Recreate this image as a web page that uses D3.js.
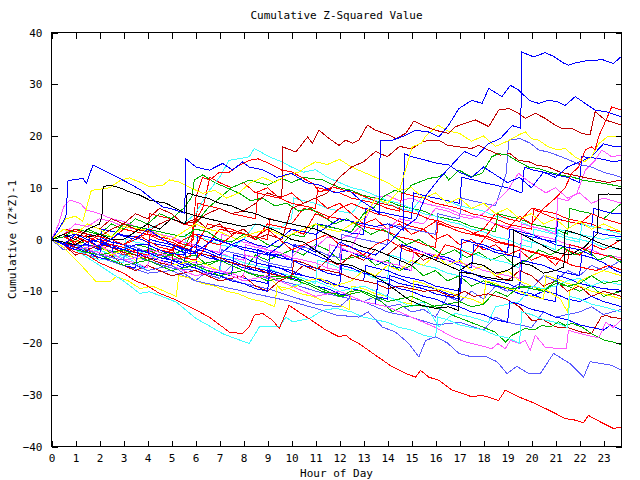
<!DOCTYPE html>
<html><head><meta charset="utf-8">
<script src="https://cdn.jsdelivr.net/npm/d3@7"></script>
<style>
body{margin:0;background:#fff}
text{font-family:"DejaVu Sans Mono","Liberation Mono",monospace;font-size:11px;fill:#000}
</style>
</head><body>
<svg id="chart" width="640" height="480"></svg>
<script>
const title = "Cumulative Z-Squared Value";
const xTitle = "Hour of Day";
const yTitle = "Cumulative (Z*Z)-1";
const hourTicks = d3.range(0, 24);
const valueTicks = [-40, -30, -20, -10, 0, 10, 20, 30, 40];

const R="#ff0000", DR="#c00000", G="#00b000", B="#0000ff", MB="#5a5aff", M="#ff55ff", C="#40ffff", Y="#ffff00", K="#000000";

const s01=[[0,0],[0.5,-1],[1,1],[1.5,0],[2,-1.5],[2.75,1],[3.5,0],[4,2],[4.5,0.5],[5,-1],[6,-2.5],[6.75,0],[7.5,-1],[8,-2],[9,-3],[9.75,-0.5],[10.5,-2],[11.5,-4],[12,-0.5],[12.75,-2],[13.5,-3],[14,-1],[14.6,2],[15.2,4],[15.6,8.5],[16.2,12],[16.6,14],[17.2,17],[17.7,16],[18.2,18.5],[18.7,19.5],[19.2,22],[19.55,21.5],[19.6,36.2],[20.09,35.3],[20.57,36.1],[20.92,35.4],[21.33,34.1],[21.54,33.7],[21.82,34.1],[22.24,34.5],[22.65,34.6],[22.93,34.8],[23.41,34],[23.75,35.4]];
const s02=[[0,0],[0.3,2],[0.6,4.4],[0.69,11.4],[1.31,11.8],[1.45,10.8],[1.73,14.4],[2.42,12.8],[3.25,10.8],[3.74,9.5],[4.09,8.2],[4.64,6.3],[5.1,5.8],[5.55,5.1],[5.6,15.6],[6.02,14],[6.58,13.4],[7.13,14.7],[7.55,13.4],[7.96,15],[8.24,14],[8.8,13.5],[9.4,12],[10,12.8],[10.6,11],[11.2,10.5],[11.8,9],[12.4,9.5],[12.9,7.5],[13.4,6],[13.65,5],[13.7,19.2],[14.2,19.2],[14.7,20],[15.16,21.1],[15.7,20.8],[16.14,19.8],[16.55,22.1],[16.97,25.3],[17.52,26.9],[17.94,26.3],[18.22,29.2],[18.77,27.6],[19.12,29.8],[19.46,28.9],[19.9,26.9],[20.3,26.3],[20.7,26.9],[21.1,26.6],[21.4,25.9],[21.82,27.6],[22.24,26.3],[22.65,25],[23.1,24.7],[23.75,23.7]];
const s03=[[0,0],[0.5,1],[1,2],[1.5,1],[2,0.5],[2.5,2],[3,3],[3.5,2],[4,1.5],[4.5,3],[5,4],[5.5,3],[6,3.5],[6.5,5],[7,6],[7.5,5],[8,5.5],[8.5,7],[9,9],[9.3,8.5],[9.6,8.2],[9.63,17.9],[10.18,16.9],[10.67,19.8],[10.87,18.6],[11.15,21.1],[11.57,19.5],[11.98,18.2],[12.26,19.2],[12.54,18.6],[12.81,19.2],[13.16,22.1],[13.51,21.1],[14.06,20.2],[14.34,19.5],[14.76,20.5],[15.1,22.9],[15.44,22.1],[16,21.1],[16.55,20.5],[16.83,21.8],[17.66,23.1],[18.22,21.8],[18.63,25],[19.05,25.3],[19.46,24.4],[19.74,23.4],[20.16,24.4],[20.57,23.4],[20.99,22.1],[21.26,21.5],[21.68,21.5],[22.1,20.5],[22.44,20.2],[22.65,24.7],[23.07,23.1],[23.75,22.1]];
const s04=[[0,0],[0.5,-1],[1,0.5],[1.5,-0.5],[2,1],[2.5,0],[3,-1],[3.75,0.5],[4.5,-1.5],[5,-2],[5.5,0],[6,1],[6.5,-0.5],[7,-1],[7.75,1.5],[8.5,0.5],[9,2],[9.5,0],[10,-2],[10.75,-0.5],[11.5,1],[12,-1],[12.5,-1.5],[13,-3],[13.5,-1],[14,0],[14.75,-2],[15.5,-3],[16,-4],[16.4,-1],[16.8,-1.5],[17.5,-3],[18,0],[18.5,3],[19,2],[19.5,4.5],[20,3],[20.5,6],[21,8],[21.4,10],[21.68,12.8],[21.96,14],[22.24,17.3],[22.51,17.9],[22.65,17.3],[22.79,19.8],[23.07,22.7],[23.34,25.6],[23.75,25]];
const s05=[[0,0],[0.5,2],[1,1],[1.5,3],[2,2],[2.5,0.5],[3,2.5],[3.75,2],[4.5,1],[5,0],[5.5,1.5],[6,3],[6.5,2],[7,1.5],[7.75,0],[8.25,1],[9,2],[9.75,0.5],[10.25,1.5],[11,3],[11.5,2],[12,1.5],[12.5,3],[13,4],[13.5,8],[14,7],[14.5,9.5],[15.03,17.9],[15.4,18.6],[15.6,20],[16.1,22.1],[16.5,21],[17,20.5],[17.5,19],[18,20],[18.5,18],[19,19],[19.46,20.2],[19.74,20.8],[20,19.5],[20.3,19.2],[20.7,17.9],[21.1,17.3],[21.4,17.6],[21.8,16],[22.2,15],[22.5,16],[22.8,18.5],[23.2,20],[23.75,19.8]];
const s06=[[0,0],[0.5,-1],[1,-2],[1.5,-0.5],[2,0],[2.5,-1.5],[3,-2],[3.5,-1],[4,-1],[4.75,-2.5],[5.5,-3],[6,-1],[6.5,-2],[7,-3],[7.5,-1],[8,0],[8.5,-1],[9,-1.5],[9.5,0],[10,2],[10.5,1.5],[11,1],[11.5,2.5],[12,4],[12.5,3.5],[13,3],[13.5,2.5],[14,3],[14.3,2.5],[14.65,1.8],[14.7,16.6],[15,16],[15.6,15.3],[16.1,14.7],[16.55,14.4],[17,13],[17.5,12],[18,14],[18.5,12.5],[19,11],[19.5,12],[20,10],[20.5,13],[21,12],[21.5,14],[22,15],[22.5,16],[23,18.5],[23.4,18],[23.75,17.9]];
const s07=[[0,0],[0.5,1],[1,0],[1.5,2],[2,3],[2.1,4.4],[2.15,10.2],[2.42,10.5],[2.84,10],[3.25,9.2],[3.67,8.6],[4.09,7.6],[4.78,7],[5.47,5.3],[6.16,4.4],[7,3.5],[8,2.5],[8.6,3],[9.3,1.8],[10,0],[10.5,-0.5],[11,-2.1],[11.85,-4.6],[12.5,-5],[13.24,-6.6],[13.8,-8],[14.34,-9.8],[14.9,-11.7],[15.4,-12.7],[16,-13.3],[16.55,-13],[16.95,-13.7],[17,-6.3],[17.5,-6.6],[18,-7.2],[18.5,-7.6],[19.2,-7.9],[19.26,1.8],[19.8,0.5],[20.4,-1],[21,-2.5],[21.6,-3],[22.2,-1.5],[22.75,1.2],[22.8,8.6],[23.2,8.8],[23.75,8.6]];
const s08=[[0,0],[0.5,-0.5],[1,-1],[1.5,0.5],[2,1],[2.5,0],[3,0],[3.5,1.5],[4,3],[4.5,2],[5,4],[5.6,3],[5.65,9],[6,8.5],[6.5,8],[7,7],[7.5,6.5],[8,5.5],[8.5,5],[9,4],[9.5,3.5],[10,3],[10.5,2.5],[11,2],[11.5,1],[12,0],[12.5,-0.5],[13,-1.5],[13.5,-2],[14,-3],[14.5,-4],[15,-5],[15.5,-3],[16,-4],[16.5,-5],[17,-6],[17.5,-4.5],[18,-5],[18.5,-6.5],[19,-6],[19.5,-4.5],[20,-5],[20.5,-6.5],[21,-6],[21.35,-5.3],[21.4,1.8],[22,1],[22.5,0],[23,-1],[23.75,-2]];
const s09=[[0,0],[0.5,-0.5],[1,-1.2],[1.5,-1],[2,-2],[2.1,2],[2.6,1.5],[3,0.8],[3.5,0.5],[4,-0.5],[4.5,-1],[5,-1.5],[5.5,-2.5],[6,-2.8],[6.1,1],[6.5,0.5],[7,-0.2],[7.5,-1],[8,-1.5],[8.5,-2],[9,-2.8],[9.5,-3],[10,-4],[10.1,-1],[10.6,-1.5],[11,-2.5],[11.1,3],[11.5,2.6],[12,2],[12.5,1.2],[13,1],[13.1,6],[13.5,5.5],[14,5],[14.5,4.5],[15,4],[15.1,9],[15.5,8.5],[16,8],[16.5,7.5],[17,7],[17.1,12],[17.6,11.5],[18,11],[18.5,10.5],[19,10],[19.6,9],[19.7,14],[20,13.5],[20.5,13],[21,12.5],[21.5,12],[22,11],[22.1,16],[22.5,15.8],[23,15.5],[23.4,15],[23.75,15.3]];
const s10=[[0,0],[0.3,3],[0.5,6.3],[0.76,7.6],[1.2,7],[1.45,5.7],[2,5],[2.5,4],[3,3.5],[3.5,2.5],[4,2],[4.5,1],[5,0.5],[5.5,-0.5],[6,-1],[6.5,-2],[7,-2.5],[7.1,1],[7.5,0.5],[8,-0.5],[8.5,-1],[9,-2],[9.5,-2.5],[10,-3.5],[10.5,-4],[11,-4.5],[11.5,-5.5],[11.6,-1],[12,-1.5],[12.5,-2.5],[13,-3],[13.5,-4],[14,-4.5],[14.5,-5],[15,-6],[15.1,-2],[15.5,-2.5],[16,-3],[16.5,-4],[17,-4.5],[17.5,-5],[18,-6],[18.5,-6.5],[19,-7],[19.5,-7.5],[19.6,3],[20,2.5],[20.5,2],[21,1],[21.1,8],[21.5,7.5],[21.9,9],[22.24,13.4],[22.65,15.3],[22.93,17.3],[23.34,16],[23.75,16.3]];
const s11=[[0,0],[0.5,-0.5],[1,-1.5],[1.5,-2],[2,-3],[2.5,-3.5],[3,-4],[3.1,-1],[3.5,-1.5],[4,-2.5],[4.5,-3],[5,-3.5],[5.5,-4.5],[6,-5],[6.5,-5.5],[7,-6],[7.1,-2],[7.5,-2.5],[8,-3],[8.5,-3.5],[9,-4.5],[9.5,-5],[10,-5.5],[10.1,-1],[10.5,-1.5],[11,-2],[11.5,-3],[12,-3.5],[12.1,1],[12.5,0.5],[13,0],[13.5,-0.5],[14,-1],[14.1,3],[14.5,2.5],[15,2],[15.5,1.5],[16,1],[16.1,5],[16.5,4.5],[17,4],[17.1,8],[17.5,7.5],[18,7],[18.5,6.5],[18.95,12.8],[19.05,19.2],[19.53,19.5],[19.95,18.6],[20.3,17.3],[20.7,16.9],[21.06,16.3],[21.5,15.5],[22,14.5],[22.5,14],[23,13],[23.4,12.5],[23.75,12]];
const s12=[[0,0],[0.5,0.5],[1,2],[1.5,1.5],[2,1],[2.5,0.5],[3,3],[3.5,2.5],[4,2],[4.5,1.5],[5,1],[5.5,0.5],[6,2],[6.5,1.5],[7,0],[7.5,-0.5],[8,1],[8.5,0.5],[9,-1],[9.5,-1.5],[10,1],[10.5,0.5],[11,3],[11.5,2.5],[12,2],[12.5,1.5],[13,5],[13.4,6],[13.8,8.2],[14.3,9.5],[14.7,9],[15,10.5],[15.72,11.8],[16.14,12.1],[16.35,12.8],[16.55,11.5],[16.97,13.4],[17.52,12.1],[17.94,12.8],[18.35,16],[18.63,16.6],[19,16.3],[19.46,15],[19.88,14],[20.3,13.7],[20.7,13.1],[21.26,12.4],[21.68,12.1],[22.1,11.5],[22.65,11.1],[23.07,10.8],[23.75,10.2]];
const s13=[[0,0],[0.5,-0.8],[1,-1.5],[1.5,-2.5],[2,-3],[2.1,-0.5],[2.5,-1],[3,-2],[3.5,-2.5],[4,-3.5],[4.5,-4],[5,-4.5],[5.5,-5.5],[5.6,-2],[6,-2.5],[6.5,-3.5],[7,-4],[7.5,-4.5],[8,-5.5],[8.5,-6],[9,-6.5],[9.1,-3],[9.5,-3.5],[10,-4],[10.5,-5],[11,-5.5],[11.5,-6.5],[12,-7],[12.1,-2],[12.5,-2.5],[13,-3],[13.5,-4],[14,-4.5],[14.5,-5],[14.6,-1],[15,-1.5],[15.5,-2.5],[16,-3],[16.5,-3.5],[17,-4.5],[17.1,0],[17.5,-0.5],[18,-1],[18.5,-2],[19,-2.5],[19.1,2],[19.5,1.5],[20,1],[20.5,0],[21,-0.5],[21.1,4],[21.5,3.5],[22,3],[22.5,2.5],[22.6,6],[23,5.5],[23.4,5],[23.75,5.1]];
const s14=[[0,0],[0.5,-1],[1,1],[1.5,0.5],[2,-0.5],[2.5,-1],[3,-1.5],[3.5,-2.5],[4,-3],[4.5,-2],[5,-2.5],[5.5,-3.5],[6,-4],[6.5,-1],[7,2],[7.5,1.5],[8,1],[8.5,0],[9,3],[9.5,2.5],[10,2],[10.5,1],[11,5],[11.5,4],[12,6],[12.5,7],[13,6],[13.5,5],[14,4.5],[14.5,3.5],[15,2.5],[15.5,2],[16,3.5],[16.5,2.5],[17,1.5],[17.5,1],[18,2],[18.5,5],[19,4],[19.5,3.5],[20,6],[20.5,5],[21,4],[21.5,3.5],[22,3],[22.5,5],[23,4],[23.75,3]];
const s15=[[0,0],[0.5,1],[1,2],[1.5,1],[2,0.5],[2.5,2],[3,3],[3.5,2.5],[4,2],[4.5,3],[5,4],[5.5,3],[6,5],[6.5,9],[7,12],[7.4,15.3],[7.8,15.6],[8.24,16],[8.45,17.6],[8.8,16.7],[9.07,16],[9.6,15],[10,14],[10.5,13],[11,13.5],[11.5,12],[12,11],[12.5,10],[13,9.5],[13.5,8.5],[14,7.5],[14.5,7],[15,6],[15.5,5],[16,4.5],[16.5,3.5],[17,3],[17.5,2],[18,1.5],[18.5,0.5],[19,0],[19.5,-1],[20,-1.5],[20.1,2],[20.5,1.5],[21,1],[21.5,0],[22,-0.5],[22.1,3],[22.5,2.5],[23,2],[23.75,1]];
const s16=[[0,0],[0.5,-1],[1,-1.5],[1.5,-2.5],[2,-3],[2.5,-3.5],[2.6,-0.5],[3,-1],[3.5,-2],[4,-2.5],[4.5,-3.5],[5,-4],[5.5,-4.5],[6,-5.5],[6.1,-2],[6.5,-2.5],[7,-3.5],[7.5,-4],[8,-5],[8.5,-5.5],[9,-6],[9.5,-7],[10,-7.5],[10.1,-4],[10.5,-4.5],[11,-5.5],[11.5,-6],[12,-6.5],[12.1,-2],[12.5,-2.5],[13,-3.5],[13.5,-4],[14,-5],[14.5,-5.5],[15,-6],[15.1,-2],[15.5,-2.5],[16,-3.5],[16.5,-4],[17,-5],[17.5,-5.5],[17.6,-1],[18,-1.5],[18.5,-2.5],[19,-3],[19.5,-3.5],[19.6,1],[20,0.5],[20.5,0],[21,-1],[21.5,-1.5],[22,-2],[22.5,-3],[22.6,1.5],[23,1],[23.75,0.5]];
const s17=[[0,0],[0.5,-1],[1,-2],[1.5,-2.5],[2,-3.5],[2.5,-4],[3,-4.5],[3.1,-1.5],[3.5,-2],[4,-3],[4.5,-3.5],[5,-4],[5.5,-5],[6,-5.5],[6.5,-6],[7,-7],[7.1,-3],[7.5,-3.5],[8,-4.5],[8.5,-5],[9,-5.5],[9.5,-6.5],[10,-7],[10.5,-7.5],[11,-8.5],[11.1,-4],[11.5,-4.5],[12,-5.5],[12.5,-6],[13,-6.5],[13.5,-7.5],[14,-8],[14.1,-3],[14.5,-3.5],[15,-4.5],[15.5,-5],[16,-5.5],[16.5,-6.5],[17,-7],[17.1,-2],[17.5,-2.5],[18,-3.5],[18.5,-4],[19,-4.5],[19.5,-5.5],[19.6,0],[20,-0.5],[20.5,-1],[21,-2],[21.1,2],[21.5,1.5],[22,1],[22.5,0.5],[23,0],[23.4,0.5],[23.75,-0.1]];
const s18=[[0,0],[0.5,0.5],[1,-0.5],[1.5,1],[2,0.5],[2.5,0],[3,-1],[3.5,0.5],[4,1],[4.5,0],[5,-0.5],[5.5,-1.5],[5.9,0],[6,8],[6.3,12],[6.6,11.5],[7,13],[7.4,13],[7.7,14],[8,14.7],[8.24,15.3],[8.6,15.6],[9.07,14.7],[9.6,13.4],[10,13.1],[10.5,11.8],[10.9,10.8],[11.15,9.2],[11.4,9.5],[11.7,10.2],[12.2,9.5],[12.7,8.9],[13.2,8],[13.7,7],[14.2,6.5],[14.7,5.5],[15.2,5],[15.7,4],[16.2,3.5],[16.7,2.5],[17.2,2],[17.7,1],[18.2,0.5],[18.7,-0.5],[19.2,-1],[19.7,-2],[20.2,-2.5],[20.7,-3.5],[21.2,-4],[21.7,-5],[22.2,-5.5],[22.7,-6],[23.2,-5],[23.75,-5.9]];
const s19=[[0,0],[0.5,0.5],[1,1],[1.5,0],[2,-0.5],[2.5,-1.5],[3,-2],[3.5,-2.5],[4,-3.5],[4.1,0],[4.5,-0.5],[5,-1],[5.5,-2],[6,-2.5],[6.5,-3],[7,-4],[7.5,-4.5],[8,-5],[8.5,-6],[8.6,-2],[9,-2.5],[9.5,-3.5],[10,-4],[10.5,-4.5],[11,-5.5],[11.5,-6],[12,-6.5],[12.5,-7.5],[13,-8],[13.1,-5],[13.5,-5.5],[14,-6],[14.5,-7],[15,-7.5],[15.5,-8],[16,-9],[16.5,-9.5],[17,-10],[17.1,-6],[17.5,-6.5],[18,-7.5],[18.5,-8],[19,-8.5],[19.5,-9.5],[19.6,-4],[20,-4.5],[20.5,-5],[21,-6],[21.5,-6.5],[22,-7],[22.1,-3],[22.5,-3.5],[23,-4.5],[23.5,-6],[23.75,-6.5]];
const s20=[[0,0],[1,-1],[2,-3],[3,-2],[4,-4],[5,-3],[6,-5],[7,-4],[8,-6],[8.24,-6.6],[9.07,-7.2],[9.6,-7.2],[10.18,-7.9],[10.74,-8.8],[11.29,-10.1],[11.85,-10.4],[12.12,-11.1],[12.4,-10.1],[12.81,-9.8],[13.23,-10.8],[13.78,-12.1],[14.2,-14],[14.61,-13],[15.17,-12.7],[15.72,-13],[16.28,-12.7],[17,-12],[17.5,-13],[18,-12.5],[18.5,-10],[19,-11],[19.5,-9],[20,-9.5],[20.5,-10],[21,-8],[21.5,-9],[22,-8.5],[22.5,-7],[23,-8.5],[23.75,-7.9]];
const s21=[[0,0],[1,-2],[2,-4],[3,-3],[4,-6],[5,-5],[6,-7],[7,-6],[8,-8],[9,-7],[10,-9],[11,-8],[12,-10],[13,-9],[14,-11],[15,-13],[15.5,-12],[16.14,-16.9],[16.55,-15],[16.83,-14.3],[17.5,-15],[18.2,-16],[18.5,-13],[19,-12.5],[19.5,-12],[20,-9],[20.5,-9.5],[21,-9],[21.5,-8],[22,-7.5],[22.5,-9],[23,-8],[23.75,-8.8]];
const s22=[[0,0],[0.5,-0.5],[1,-1.5],[1.5,-2],[2,-3],[2.5,-3.5],[3,-4],[3.5,-5],[4,-5.5],[4.1,-2],[4.5,-2.5],[5,-3.5],[5.5,-4],[6,-4.5],[6.5,-5.5],[7,-6],[7.5,-6.5],[8,-7.5],[8.5,-8],[9,-8.5],[9.1,-5],[9.5,-5.5],[10,-6],[10.5,-7],[11,-7.5],[11.5,-8],[12,-9],[12.5,-9.5],[13,-10],[13.5,-11],[14,-11.5],[14.1,-7],[14.5,-7.5],[15,-8.5],[15.5,-9],[16,-9.5],[16.5,-10.5],[17,-11],[17.5,-11.5],[18,-12.5],[18.1,-8],[18.5,-8.5],[19,-9.5],[19.5,-10],[20,-10.5],[20.5,-11.5],[21,-12],[21.1,-7],[21.5,-7.5],[22,-8.5],[22.5,-9],[23,-9.5],[23.75,-9.8]];
const s23=[[0,0],[0.5,-1],[1,-1.5],[1.5,-2.5],[1.6,1],[2,0.5],[2.5,-0.5],[3,-1],[3.5,-2],[4,-2.5],[4.5,-3],[5,-4],[5.5,-4.5],[6,-5],[6.5,-6],[7,-6.5],[7.5,-7],[7.6,-3],[8,-3.5],[8.5,-4.5],[9,-5],[9.5,-5.5],[10,-6.5],[10.5,-7],[11,-7.5],[11.5,-8.5],[12,-9],[12.1,-5],[12.5,-5.5],[13,-6.5],[13.5,-7],[14,-7.5],[14.5,-8.5],[15,-9],[15.5,-9.5],[16,-10.5],[16.5,-11],[17,-11.5],[17.1,-7],[17.5,-7.5],[18,-8.5],[18.5,-9],[19,-9.5],[19.5,-10.5],[20,-11],[20.5,-10],[21,-10.5],[21.5,-11.5],[22,-12],[22.5,-11],[23,-12],[23.4,-12.5],[23.75,-13]];
const s24=[[0,0],[0.5,-0.5],[1,-1.5],[1.5,-2],[2,-1],[2.5,-1.5],[3,-2.5],[3.5,-3],[4,-3.5],[4.5,-4.5],[5,-5],[5.1,-1],[5.5,-1.5],[6,-2.5],[6.5,-3],[7,-3.5],[7.5,-4.5],[8,-5],[8.5,-5.5],[9,-6.5],[9.5,-7],[10,-7.5],[10.1,-4],[10.5,-4.5],[11,-5.5],[11.5,-6],[12,-6.5],[12.5,-7.5],[13,-8],[13.5,-8.5],[14,-9.5],[14.5,-9],[15,-9.5],[15.5,-10],[16,-9.8],[16.69,-11.1],[17.2,-10],[17.6,-11],[18.2,-10.5],[18.9,-11.4],[19.5,-13],[20,-15.6],[20.5,-15.5],[21,-16.9],[21.5,-17],[22.1,-17.9],[22.5,-18.2],[22.9,-15],[23.1,-14.6],[23.3,-15],[23.75,-15.3]];
const s25=[[0,0],[0.5,-1],[1,-2],[1.5,-2.5],[2,-3.5],[2.5,-4],[3,-5],[3.5,-5.5],[3.6,-2],[4,-2.5],[4.5,-3.5],[5,-4],[5.5,-5],[6,-5.5],[6.5,-6.5],[7,-7],[7.5,-8],[8,-8.5],[8.5,-9.5],[9,-10],[9.1,-6],[9.5,-6.5],[10,-7.5],[10.5,-8],[11,-9],[11.5,-9.5],[12,-10.5],[12.5,-11],[13,-12],[13.5,-12.5],[13.6,-8],[14,-8.5],[14.5,-9.5],[15,-10],[15.5,-11],[16,-11.5],[16.5,-12.5],[17,-13],[17.5,-14],[18,-14.5],[18.5,-15.5],[19,-16],[19.1,-12],[19.5,-12.5],[20,-13.5],[20.5,-14],[21,-15],[21.5,-15.5],[22,-16.5],[22.5,-17],[23,-17.5],[23.3,-16.5],[23.75,-17.5]];
const s26=[[0,0],[1,-2],[2,-3],[3,-5],[4,-4],[5,-6],[6,-5],[7,-7],[8,-6],[9,-8],[10,-7],[11,-9],[12,-11],[13,-10],[14,-12],[15,-11],[16,-13],[16.69,-14.6],[17.25,-15.6],[17.8,-16.6],[18.49,-17.9],[18.91,-19.8],[19.19,-18.5],[19.74,-17.2],[20.1,-17.5],[20.43,-16.6],[20.8,-16.9],[21.13,-15.9],[21.4,-16.6],[21.68,-16.2],[22.1,-16.9],[22.51,-18.2],[23.07,-19.5],[23.4,-19.8],[23.75,-20.4]];
const s27=[[0,0],[1,-1],[2,-3],[3,-4],[4,-6],[5,-5],[6,-8],[7,-9],[8,-10],[9,-11],[10,-12],[11.01,-13.3],[11.85,-14.6],[12.81,-15],[13.2,-14],[13.78,-16.9],[14.34,-17.9],[14.89,-20.1],[15.31,-22.7],[15.59,-19.5],[16,-18.8],[16.5,-20],[16.97,-22],[17.52,-22.7],[18.08,-22.6],[18.56,-23.6],[18.98,-25.9],[19.39,-24.5],[19.88,-25.9],[20.37,-25.9],[20.92,-22],[21.61,-24],[22.17,-26.6],[22.44,-23.6],[22.93,-24],[23.34,-24.3],[23.75,-25.3]];
const s28=[[0,0],[0.5,-1],[1,-2.5],[1.5,-3],[2,-4.5],[2.5,-5.5],[3,-6.5],[3.5,-8],[3.94,-8.8],[4.5,-10.4],[5.2,-11.7],[5.88,-13.3],[6.58,-15],[7.13,-16.9],[7.41,-17.9],[7.96,-18.2],[8.24,-16.9],[8.45,-14.6],[8.8,-14.3],[9.21,-15.6],[9.49,-17.2],[9.9,-12.7],[10.3,-14],[10.74,-15.3],[11.43,-17.5],[11.98,-18.8],[12.26,-18.5],[12.54,-19.5],[12.81,-20.1],[13.51,-22.4],[14.2,-24.6],[14.76,-25.9],[15.17,-26.6],[15.38,-25.3],[15.72,-26.6],[16.14,-27.2],[16.69,-29.1],[17.52,-30.4],[17.94,-30.1],[18.63,-31.1],[18.91,-29.1],[19.46,-30.4],[20.16,-31.7],[20.99,-33.6],[21.4,-34.6],[21.82,-34.9],[22.17,-35.4],[22.37,-34],[22.93,-35.4],[23.41,-36.5],[23.75,-36.3]];
const s29=[[0,0],[0.5,-1],[1,-2],[1.5,-3.5],[2,-5],[2.42,-6.3],[3,-8],[3.67,-10.4],[4.09,-10.1],[4.6,-11],[5.2,-12.1],[6.03,-15.3],[6.5,-16.5],[7.13,-18.2],[7.7,-19.2],[8.24,-20.1],[8.66,-16.9],[9.49,-16.9],[9.77,-15],[10.04,-15.9],[10.74,-15.3],[11.29,-13.7],[11.85,-13.3],[12.5,-14],[13,-15],[13.5,-15.5],[14,-16],[14.5,-17],[15,-17.5],[15.5,-18.5],[16,-19],[16.1,-15],[16.5,-15.5],[17,-16.5],[17.5,-17],[18,-17.5],[18.5,-18.5],[19,-19],[19.5,-20],[19.6,-14],[20,-14.5],[20.5,-15.5],[21,-16],[21.5,-17],[21.6,-11],[22,-11.5],[22.5,-12.5],[23,-13],[23.75,-14]];
const s30=[[0,0],[0.5,-1.5],[1.24,-5],[1.87,-8.2],[2.42,-8.2],[2.7,-7.2],[3.2,-8],[3.7,-9.5],[4.2,-9],[4.7,-10],[5.2,-11],[5.3,-7],[5.8,-7.5],[6.3,-8.5],[6.8,-9],[7.3,-10],[7.8,-10.5],[8.3,-11.5],[8.8,-12],[9.3,-13],[9.4,-9],[9.9,-9.5],[10.4,-10.5],[10.9,-11],[11.4,-12],[11.9,-12.5],[12.4,-13.5],[12.5,-9],[13,-9.5],[13.5,-10.5],[14,-11],[14.5,-12],[15,-12.5],[15.1,-8],[15.5,-8.5],[16,-9.5],[16.5,-10],[17,-11],[17.5,-11.5],[18,-12.5],[18.1,-8],[18.5,-8.5],[19,-9.5],[19.5,-10],[20,-11],[20.5,-11.5],[20.6,-7],[21,-7.5],[21.5,-8.5],[22,-9],[22.5,-10],[23,-10.5],[23.75,-11.5]];
const s31=[[0,0],[0.5,2],[1,1.5],[1.5,1],[2,0],[2.5,-0.5],[3,-1],[3.5,-2],[4,-2.5],[4.1,1],[4.5,0.5],[5,0],[5.5,-1],[6,-1.5],[6.5,3],[7,2.5],[7.5,2],[8,1],[8.5,0.5],[9,0],[9.1,4],[9.5,3.5],[10,3],[10.5,6],[11,5.5],[11.5,4.5],[12,4],[12.5,3.5],[13,2.5],[13.5,2],[14,1.5],[14.5,0.5],[15,0],[15.5,-1],[16,-1.5],[16.1,3],[16.5,2.5],[17,1.5],[17.5,1],[18,0.5],[18.5,-0.5],[19,-1],[19.5,-1.5],[20,-2.5],[20.5,-3],[21,-3.5],[21.5,-4.5],[21.6,-1],[22,-1.5],[22.5,-2.5],[23,-3],[23.75,-4]];
const s32=[[0,0],[0.5,-1],[1,0],[1.5,-1],[2,-1.5],[2.5,-2.5],[3,-2],[3.5,-1],[4,-1.5],[4.5,-2.5],[5,-3],[5.5,-2],[6,3],[6.5,6],[7,8],[7.5,10],[8.24,11.5],[9,10.5],[9.6,11.8],[10,11],[10.5,12],[11.3,11.5],[12,10],[12.5,9.5],[13,8.5],[13.5,8],[14,7.5],[14.5,6.5],[15,6],[15.5,5.5],[16,4.5],[16.5,4],[17,3.5],[17.5,2.5],[18,2],[18.5,1.5],[18.6,5],[19,4.5],[19.5,4],[20,3],[20.5,2.5],[21,2],[21.5,1],[21.6,6],[22,5.5],[22.5,5],[23,4],[23.75,7]];
const s33=[[0,0],[0.5,-1.5],[1,-1],[1.5,-2],[2,-2.5],[2.5,-3.5],[3,-4],[3.5,-4.5],[4,-5.5],[4.1,-2],[4.5,-2.5],[5,-3.5],[5.5,-4],[6,-4.5],[6.5,-5.5],[7,-6],[7.5,-6.5],[8,-7.5],[8.1,-3],[8.5,-3.5],[9,-2],[9.5,-2.5],[10,-3.5],[10.5,-4],[11,-4.5],[11.5,-5.5],[12,-6],[12.1,-1],[12.5,-1.5],[13,3],[13.5,2.5],[14,2],[14.5,4],[15,3.5],[15.5,3],[16,6],[16.5,5.5],[17,4.5],[17.5,4],[18,5],[18.6,7.6],[19,9.5],[19.46,12.8],[19.8,11.5],[20.2,10.2],[20.6,9],[21,10],[21.5,8],[22,9],[22.5,7],[23,8],[23.75,7]];
const s34=[[0,0],[1,-2],[2,-1],[3,-4],[4,-3],[5,-5],[6,-7],[7,-6],[8,-8],[9,-7],[10,-9],[11,-11],[12,-10],[13,-12],[14,-13],[15,-15],[16,-17],[16.69,-18.8],[17.25,-19.8],[17.8,-20.4],[18.35,-21.1],[18.6,-20.1],[18.91,-21.1],[19.12,-19.5],[19.5,-20.1],[19.74,-19.5],[19.95,-21.4],[20.16,-18.5],[20.57,-20.8],[21.13,-21.1],[21.45,-21.1],[21.54,-17.5],[21.8,-17.9],[22.3,-18.5],[22.8,-19],[23.1,-16],[23.4,-17],[23.75,-15.5]];
const s35=[[0,0],[0.5,1],[1,3],[1.5,2.5],[2,4],[2.5,3.5],[3,2.5],[3.5,2],[4,1.5],[4.5,0.5],[5,0],[5.5,-0.5],[6,-1.5],[6.5,-2],[7,-2.5],[7.5,-3.5],[8,-4],[8.1,-1],[8.5,-1.5],[9,-2],[9.5,-3],[10,-3.5],[10.5,-1],[11,-1.5],[11.5,0.5],[12,0],[12.5,1],[13,3],[13.5,8.2],[14,8.5],[14.5,7.5],[15,8],[15.5,7],[16,6.5],[16.5,6],[17,5],[17.5,4.5],[18,4],[18.5,3],[19,2.5],[19.5,2],[20,1],[20.5,0.5],[21,0],[21.5,-1],[22,-1.5],[22.5,-2],[23,-3],[23.75,-3.5]];
const s36=[[0,0],[0.5,-1.5],[1,-1],[1.5,-2.5],[2,-2],[2.5,-3],[3,-3.5],[3.1,0],[3.5,-0.5],[4,-1],[4.5,-2],[5,-2.5],[5.5,-3],[5.6,1],[6,0.5],[6.5,0],[7,-1],[7.5,-1.5],[8,0],[8.5,3],[9,2.5],[9.5,2],[10,4],[10.1,8],[10.5,7.5],[11,7],[11.5,6],[12,5.5],[12.5,5],[13,8],[13.5,7.5],[14,7],[14.5,6],[15,5.5],[15.5,8.5],[16,8],[16.5,7.5],[17,6.5],[17.5,6],[18,5.5],[18.5,4.5],[19,4],[19.5,3.5],[20,2.5],[20.5,2],[21,1.5],[21.5,0.5],[22,0],[22.5,-0.5],[23,-1.5],[23.75,-2]];
const s37=[[0,0],[0.5,1],[1,0],[1.5,-2],[2,-1],[2.5,-3],[3,-2],[3.5,-4],[4,-3],[5,-5],[6,-4],[7,-6],[8,-8],[9,-7],[9.6,-9.8],[10.2,-9],[10.6,-8],[11.2,-7.5],[11.8,-9],[12.5,-8],[13,-6],[13.5,-7],[14,-5],[14.5,-6],[15,-4],[15.5,-5],[16,-3],[16.5,-5],[17,-4],[17.5,-6],[18,-5],[18.5,-7],[19,-6],[19.5,-8],[20,-9],[20.7,-10],[21.2,-11.5],[21.5,-14],[21.6,-10],[22,-8],[22.5,-7],[23,-6],[23.75,-7]];
const s38=[[0,0],[0.3,2],[0.6,4],[1,4.5],[1.3,3.5],[1.66,9.5],[2.42,10],[2.9,11.5],[3.25,11.9],[3.67,11.1],[4.09,10.2],[4.64,10.5],[4.92,11.5],[5.33,11.1],[5.8,10],[6.3,8.9],[6.8,9.5],[7.3,8],[7.8,9],[8.3,11],[8.8,12],[9.3,11],[9.8,12.5],[10.3,13],[10.6,14],[11,15],[11.5,14.5],[12,15.5],[12.5,14],[13,13],[13.5,12],[14,11],[14.5,9.5],[15,10],[15.5,8],[16,9],[16.5,7],[17,8],[17.5,6],[18,7],[18.5,5],[19,6],[19.5,4],[20,5],[20.5,3],[21,4],[21.5,2],[22,3.5],[22.5,2],[23,3],[23.75,1.5]];
const s39=[[0,0],[0.5,2],[1,1],[1.5,3],[2,2],[2.5,4],[3,3],[3.5,5],[4,4],[4.5,6],[5,5],[5.5,3],[6,4],[6.5,2],[7,3],[7.5,1],[8,2],[8.5,0],[9,1],[9.6,0],[10,6],[10.5,7],[11,8],[11.5,9],[12,12],[12.5,14],[13,15],[13.5,17],[14,16],[14.5,18],[15,17.5],[15.5,19],[16.14,19.2],[16.5,18.2],[16.97,17.9],[17.5,17.6],[17.8,18.2],[18.2,17.3],[18.7,16.3],[19.1,16.6],[19.46,15.3],[19.9,15],[20.2,14.4],[20.7,14],[21.2,13],[21.7,12.5],[22.2,12],[22.7,11.5],[23.2,11],[23.75,11.5]];
const s40=[[0,0],[0.5,-1],[1,-3],[1.5,-2],[2,-4],[2.5,-3],[3,-5],[3.5,-6],[4,-5],[5,-7],[6,-6],[7,-8],[8,-7],[8.5,-9],[9,-10],[9.5,-8],[10,-7],[10.5,-5],[11,-6],[11.5,-4],[12,-5],[12.5,-3],[13,-4],[13.5,-2],[14,-3],[14.5,-1],[15,-2],[15.5,-4],[16,-3],[16.5,-5],[17,-4],[17.5,-6],[18,-5],[18.5,-7],[19,-8],[19.5,-6],[20,-7],[20.5,-9],[21,-8],[21.5,-10],[22,-9],[22.5,-11],[23,-10],[23.75,-11]];
const s41=[[0,0],[0.5,1],[1,-1],[1.5,0],[2,-2],[2.5,-1],[3,-3],[4,-2],[5,-4],[6,-3],[6.5,-5],[7,-4],[8,-6],[8.5,-3],[9,-4],[10,-2],[10.5,-3],[11,-1],[11.5,-2],[12,-4],[13,-3],[13.5,-5],[14,-4],[14.5,-6],[15,-5],[15.5,-7],[16,-6],[16.5,-8],[17,-7],[17.5,-9],[18,-8],[18.5,-8.8],[19.2,-9.5],[20,-9],[20.5,-10],[21,-8.5],[21.5,-9],[22,-10],[22.5,-9],[23,-11],[23.75,-10]];
const s42=[[0,0],[0.5,1],[1,-1],[2,-1.5],[3,-3],[4,-4],[5,-5.5],[6,-6],[7,-7.5],[7.5,-5],[8,-6],[9,-7.5],[10,-8.5],[11,-10],[12,-11],[13,-12],[13.5,-11],[14,-13],[14.5,-12.5],[15,-14],[15.5,-13.5],[16,-15],[16.5,-11],[17,-12],[17.5,-10],[18,-11.5],[18.5,-9],[19,-10],[19.5,-8.5],[20,-9.5],[20.5,-7],[21,-8],[21.5,-6],[22,-7],[22.5,-5],[23,-6],[23.75,-4]];
const s43=[[0,0],[0.5,-2],[1,-1.5],[1.5,-3],[2,-3.5],[3,-5],[4,-6.5],[5,-6],[6,-8],[6.5,-6],[7,-7],[8,-8.5],[9,-9.5],[10,-11],[11,-12.5],[12,-13],[12.5,-11],[13,-12],[14,-14],[15,-15],[16,-16.5],[17,-16],[18,-17.5],[18.5,-15],[19,-16],[20,-17],[20.5,-14],[21,-15],[22,-14],[22.5,-13],[23,-14.5],[23.75,-13.5]];
const s44=[[0,0],[0.5,-1],[1,0.5],[1.5,-0.5],[2,1],[2.5,0],[3,2],[3.5,1.5],[4,1],[4.1,5],[4.5,4.5],[5,4],[5.5,3],[6,2.5],[6.1,7],[6.5,6.5],[7,6],[7.5,5],[8,4.5],[8.5,4],[8.6,9],[9,8.5],[9.5,8],[10,7],[10.5,6.5],[11,6],[11.1,10],[11.5,9.5],[12,9],[12.5,8],[13,7.5],[13.5,7],[14,6],[14.5,5.5],[14.6,9],[15,8.5],[15.5,8],[16,7],[16.5,6.5],[17,6],[17.5,5],[18,4.5],[18.5,4],[19,3],[19.5,2.5],[20,2],[20.1,6],[20.5,5.5],[21,5],[21.5,4],[22,3.5],[22.5,3],[23,2],[23.75,1.5]];
const s45=[[0,0],[1,-2],[2,-1],[3,-3],[4,-2],[5,-4],[6,-3],[7,-5],[8,-4],[9,-6],[10,-4],[11,-5],[12,-3],[13,-4],[14,-2],[15,0],[16,-2],[17,-1],[17.5,1],[18,0],[18.5,2],[19,3],[19.4,1],[19.6,8],[19.85,15.3],[20.3,15],[20.8,14.8],[21.3,14],[21.8,12],[22.3,11],[22.8,9],[23.3,8],[23.75,7.5]];
const s46=[[0,0],[0.5,1],[1,0],[1.5,2],[2,1],[2.5,3],[3,2],[3.5,4],[4,3],[4.5,5],[5,4],[5.5,6],[5.85,8.2],[5.95,11.5],[6.3,12.5],[6.8,11],[7.3,10],[7.8,9],[8.3,7.5],[8.8,8],[9.3,6.5],[9.8,7],[10.3,5.5],[10.8,6],[11.3,4.5],[11.8,3],[12.3,4],[12.8,2.5],[13.3,1],[13.8,2],[14.3,0.5],[14.8,-1],[15.3,0],[15.8,-1.5],[16.3,-3],[16.8,-2],[17.3,-3.5],[17.8,-2.5],[18.3,-4],[18.8,-3],[19.3,-5],[19.8,-4],[20.3,-2],[20.8,-3],[21.3,-1.5],[21.8,-3],[22.3,-2],[22.8,-4],[23.3,-3],[23.75,-4.5]];
const s47=[[0,0],[0.5,1],[1,-1],[1.5,0],[2,-2],[2.5,-1],[3,-3],[3.5,-2],[4,-4],[4.5,-3],[5,-2],[5.5,-4],[5.8,-3],[5.9,3],[6.3,6],[6.6,12],[7,11],[7.5,10],[8,11],[8.5,9],[9,10],[9.5,8],[10,9],[10.5,7],[11,8],[11.5,6],[12,7],[12.5,5],[13,3],[13.5,4],[14,2],[14.5,3],[15,1],[15.5,2],[16,0],[16.5,1],[17,-1],[17.5,0],[18,-2],[18.5,-1],[19,-3],[19.5,-2],[20,-4],[20.5,-3],[21,-5],[21.5,-2],[22,-3],[22.5,-1],[23,-2],[23.75,0]];

const seriesValues = [s36,s42,s43,s41,s40,s35,s31,s44,s47,s46,s32,s16,s17,s19,s22,s23,s13,s14,s15,s09,s10,s11,s33,s37,s30,s21,s20,s24,s25,s26,s34,s29,s27,s28,s18,s38,s39,s12,s06,s05,s04,s03,s08,s07,s02,s01];
const seriesColors = [C,MB,MB,G,DR,M,R,R,R,G,G,B,C,B,B,B,B,R,C,B,M,MB,M,Y,Y,C,G,DR,B,G,M,C,MB,R,R,Y,DR,G,B,Y,R,DR,K,K,B,B];

const svg=d3.select("#chart");
const x=d3.scaleLinear().domain([0,23.75]).range([51.5,621.5]);
const y=d3.scaleLinear().domain([-40,40]).range([446.5,32.5]);

svg.append("clipPath").attr("id","clip").append("rect")
  .attr("x",51.5).attr("y",32.5).attr("width",570).attr("height",414);

const line=d3.line().x(d=>x(d[0])).y(d=>y(d[1]));
const g=svg.append("g").attr("clip-path","url(#clip)");
seriesValues.forEach((s,i)=>{
  g.append("path").attr("d",line(s)).attr("fill","none")
   .attr("stroke",seriesColors[i]).attr("stroke-width",1)
   .attr("shape-rendering","crispEdges");
});

function styleAxis(sel){
  sel.select(".domain").remove();
  sel.selectAll("line").attr("stroke","#000").attr("shape-rendering","crispEdges");
  sel.selectAll("text").attr("font-family",null).attr("font-size",null);
}
svg.append("g").attr("transform","translate(0,446.5)")
  .call(d3.axisBottom(x).tickValues(hourTicks).tickSize(-6).tickPadding(8).tickFormat(d3.format("d")))
  .call(styleAxis);
svg.append("g").attr("transform","translate(0,32.5)")
  .call(d3.axisTop(x).tickValues(hourTicks).tickSize(-6).tickFormat(""))
  .call(styleAxis);
svg.append("g").attr("transform","translate(51.5,0)")
  .call(d3.axisLeft(y).tickValues(valueTicks).tickSize(-6).tickPadding(9))
  .call(styleAxis);
svg.append("g").attr("transform","translate(621.5,0)")
  .call(d3.axisRight(y).tickValues(valueTicks).tickSize(-6).tickFormat(""))
  .call(styleAxis);

svg.append("rect").attr("x",51.5).attr("y",32.5).attr("width",570).attr("height",414)
  .attr("fill","none").attr("stroke","#000").attr("shape-rendering","crispEdges");

svg.append("text").attr("x",336.5).attr("y",19).attr("text-anchor","middle").text(title);
svg.append("text").attr("x",336.5).attr("y",477).attr("text-anchor","middle").text(xTitle);
svg.append("text").attr("transform","translate(16,239.5) rotate(-90)").attr("text-anchor","middle").text(yTitle);
</script>
</body></html>
